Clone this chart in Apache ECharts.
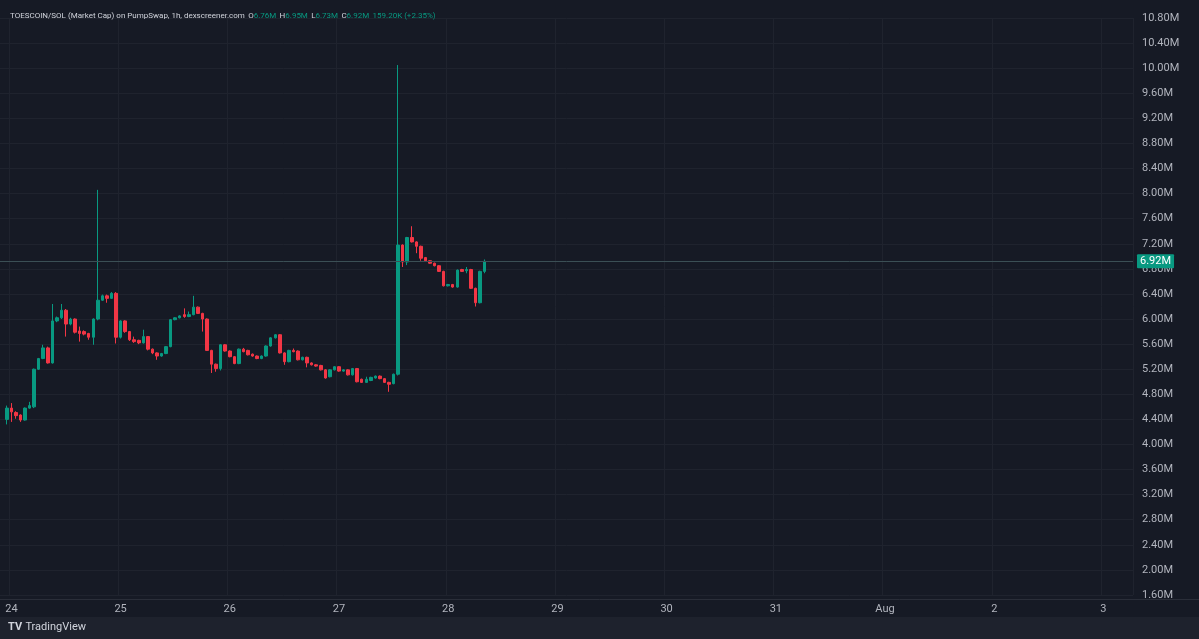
<!DOCTYPE html>
<html>
<head>
<meta charset="utf-8">
<title>TOESCOIN/SOL</title>
<script src="https://cdn.jsdelivr.net/npm/echarts@6/dist/echarts.min.js"></script>
<style>
  html, body { margin: 0; padding: 0; background: #161a25; }
  #chart { width: 1199px; height: 639px; }
</style>
</head>
<body>
<div id="chart"></div>
<script>
// hourly candles, market cap in millions (first candle = Jul 23 23:00)
const opens = [
  4.40, 4.58, 4.51, 4.47, 4.39, 4.58, 4.60, 5.20, 5.37, 5.54, 5.30, 5.97, 6.02, 6.14, 5.92, 6.00, 5.81, 5.80,
  5.77, 5.71, 6.00, 6.30, 6.37, 6.33, 6.41, 5.71, 5.97, 5.80, 5.67, 5.66, 5.62, 5.72, 5.52, 5.46, 5.41, 5.45,
  5.56, 5.99, 6.02, 6.07, 6.04, 6.07, 6.19, 6.09, 6.00, 5.50, 5.28, 5.21, 5.59, 5.49, 5.40, 5.29, 5.52, 5.50,
  5.44, 5.41, 5.37, 5.41, 5.57, 5.70, 5.75, 5.46, 5.32, 5.50, 5.49, 5.35, 5.39, 5.30, 5.27, 5.26, 5.19,
  5.08, 5.19, 5.24, 5.17, 5.19, 5.11, 5.21, 5.04, 4.99, 5.02, 5.06, 5.09, 5.05, 4.99, 4.97, 5.12,
  7.18, 6.91, 7.30, 7.23, 7.16, 6.98, 6.93, 6.89, 6.85, 6.76, 6.53, 6.55, 6.51, 6.79, 6.77, 6.79, 6.49, 6.26, 6.76
];
const closes = [
  4.58, 4.52, 4.46, 4.39, 4.58, 4.62, 5.20, 5.37, 5.54, 5.30, 5.97, 6.02, 6.14, 5.92, 6.00, 5.79, 5.77, 5.76,
  5.71, 6.00, 6.30, 6.37, 6.33, 6.41, 5.71, 5.97, 5.80, 5.67, 5.64, 5.62, 5.72, 5.52, 5.46, 5.41, 5.45, 5.56,
  5.99, 6.02, 6.05, 6.04, 6.07, 6.19, 6.09, 6.00, 5.50, 5.28, 5.21, 5.59, 5.49, 5.40, 5.29, 5.52, 5.48, 5.43,
  5.41, 5.37, 5.41, 5.57, 5.70, 5.75, 5.46, 5.32, 5.50, 5.48, 5.35, 5.39, 5.30, 5.27, 5.25, 5.19, 5.06,
  5.19, 5.24, 5.17, 5.19, 5.11, 5.21, 5.00, 4.99, 5.04, 5.07, 5.09, 5.05, 4.99, 4.96, 5.12, 7.18,
  6.91, 7.30, 7.23, 7.16, 6.97, 6.93, 6.89, 6.85, 6.76, 6.53, 6.55, 6.51, 6.78, 6.76, 6.79, 6.49, 6.26, 6.76, 6.92
];
const lows = [
  4.32, 4.36, 4.41, 4.36, 4.38, 4.57, 4.58, 5.19, 5.36, 5.29, 5.29, 5.95, 6.00, 5.72, 5.90, 5.77, 5.64, 5.74,
  5.67, 5.59, 5.98, 6.29, 6.26, 6.32, 5.61, 5.69, 5.78, 5.65, 5.62, 5.60, 5.61, 5.50, 5.44, 5.35, 5.40, 5.44,
  5.55, 5.98, 6.01, 6.02, 6.03, 6.06, 6.08, 5.80, 5.49, 5.14, 5.16, 5.18, 5.48, 5.39, 5.28, 5.28, 5.47, 5.42,
  5.40, 5.36, 5.36, 5.40, 5.56, 5.69, 5.45, 5.27, 5.31, 5.47, 5.34, 5.34, 5.23, 5.26, 5.24, 5.18, 5.05,
  5.07, 5.18, 5.16, 5.16, 5.10, 5.10, 4.99, 4.98, 4.98, 5.01, 5.05, 5.04, 4.98, 4.84, 4.96, 5.10,
  6.83, 6.86, 7.22, 7.05, 6.93, 6.92, 6.88, 6.84, 6.75, 6.52, 6.52, 6.50, 6.50, 6.75, 6.73, 6.48, 6.20, 6.25, 6.73
];
const highs = [
  4.62, 4.66, 4.53, 4.48, 4.59, 4.68, 5.21, 5.38, 5.59, 5.56, 6.24, 6.04, 6.24, 6.16, 6.02, 6.01, 5.88, 5.82,
  5.78, 6.01, 8.06, 6.39, 6.39, 6.43, 6.43, 5.98, 5.98, 5.81, 5.72, 5.67, 5.83, 5.73, 5.53, 5.47, 5.46, 5.57,
  6.00, 6.03, 6.06, 6.17, 6.12, 6.37, 6.20, 6.10, 6.01, 5.51, 5.29, 5.60, 5.60, 5.50, 5.41, 5.53, 5.54, 5.51,
  5.45, 5.42, 5.42, 5.58, 5.71, 5.76, 5.76, 5.47, 5.51, 5.53, 5.50, 5.40, 5.40, 5.31, 5.28, 5.27, 5.20,
  5.20, 5.25, 5.25, 5.20, 5.20, 5.22, 5.22, 5.05, 5.08, 5.08, 5.10, 5.10, 5.06, 5.00, 5.13, 10.05,
  7.19, 7.31, 7.48, 7.24, 7.17, 6.99, 6.94, 6.90, 6.86, 6.77, 6.56, 6.56, 6.79, 6.80, 6.83, 6.80, 6.50, 6.77, 6.95
];
const changeText = '159.20K (+2.35%)';

// hourly time axis: Jul 23 22:00 .. (249 slots), first candle sits in slot 1
const startSlot = 1;
const slotCount = 249;
const times = [];
{
  let m = 7, d = 23, h = 22;
  for (let i = 0; i < slotCount; i++) {
    times.push(m + '-' + d + ' ' + (h < 10 ? '0' + h : h) + ':00');
    h++;
    if (h === 24) { h = 0; d++; if (m === 7 && d === 32) { m = 8; d = 1; } }
  }
}

const candles = times.map((t, i) => {
  const k = i - startSlot;
  if (k < 0 || k >= opens.length) return '-';
  return [opens[k], closes[k], lows[k], highs[k]];
});

const upColor = '#089981';
const downColor = '#f23645';
const gridColor = '#1f232e';
const last = opens.length - 1;
const fmt = v => v.toFixed(2) + 'M';

const chart = echarts.init(document.getElementById('chart'));

const isMidnight = (idx, val) => / 00:00$/.test(val);

chart.setOption({
  backgroundColor: '#161a25',
  animation: false,
  textStyle: { fontFamily: 'Roboto, sans-serif' },
  grid: { left: 0, right: 66, top: 18, bottom: 44 },
  xAxis: {
    type: 'category',
    data: times,
    boundaryGap: true,
    axisLine: { show: false },
    axisTick: { show: false },
    axisLabel: {
      interval: isMidnight,
      margin: 9,
      color: '#b2b5be',
      fontSize: 11,
      formatter: val => {
        const [md] = val.split(' ');
        const [m, d] = md.split('-');
        return (m === '8' && d === '1') ? 'Aug' : d;
      }
    },
    splitLine: { show: true, interval: isMidnight, lineStyle: { color: gridColor, width: 1 } }
  },
  yAxis: {
    type: 'value',
    position: 'right',
    min: 1.6,
    max: 10.8,
    interval: 0.4,
    axisLine: { show: false },
    axisTick: { show: false },
    axisLabel: { color: '#b2b5be', fontSize: 11, margin: 9, formatter: fmt },
    splitLine: { lineStyle: { color: gridColor, width: 1 } }
  },
  series: [{
    type: 'candlestick',
    data: candles,
    barWidth: 3,
    itemStyle: {
      color: upColor,
      color0: downColor,
      borderColor: upColor,
      borderColor0: downColor,
      borderWidth: 1
    },
    markLine: {
      silent: true,
      symbol: ['none', 'none'],
      lineStyle: { color: '#3b4f55', type: 'solid', width: 1 },
      label: {
        position: 'end',
        distance: 4,
        formatter: p => fmt(p.value),
        color: '#ffffff',
        backgroundColor: upColor,
        padding: [2, 3, 1, 3],
        fontSize: 11,
        borderRadius: 1
      },
      data: [{ yAxis: closes[last] }]
    }
  }],
  graphic: [
    {
      type: 'line',
      shape: { x1: 0, y1: 599.5, x2: 1199, y2: 599.5 },
      style: { stroke: '#2a2e39', lineWidth: 1 },
      silent: true
    },
    {
      type: 'rect',
      shape: { x: 0, y: 617, width: 1199, height: 22 },
      style: { fill: '#1e222d' },
      silent: true
    },
    {
      type: 'text',
      left: 8,
      top: 621,
      style: {
        text: '{logo|TV} {name|TradingView}',
        rich: {
          logo: { fill: '#d1d4dc', fontSize: 11, fontWeight: 'bold', fontFamily: 'Roboto' },
          name: { fill: '#d1d4dc', fontSize: 11, fontFamily: 'Roboto' }
        }
      }
    },
    {
      type: 'text',
      left: 10,
      top: 10,
      z: 100,
      style: {
        text: '{t|TOESCOIN/SOL (Market Cap) on PumpSwap, 1h, dexscreener.com} ' +
          '{k|O}{v|' + fmt(opens[last]) + '} {k|H}{v|' + fmt(highs[last]) + '} ' +
          '{k|L}{v|' + fmt(lows[last]) + '} {k|C}{v|' + fmt(closes[last]) + '} {v|' + changeText + '}',
        rich: {
          t: { fill: '#d1d4dc', fontSize: 8, lineHeight: 12, fontFamily: 'Roboto' },
          k: { fill: '#d1d4dc', fontSize: 8, lineHeight: 12, fontFamily: 'Roboto' },
          v: { fill: upColor, fontSize: 8, lineHeight: 12, fontFamily: 'Roboto' }
        }
      }
    }
  ]
});
</script>
</body>
</html>
